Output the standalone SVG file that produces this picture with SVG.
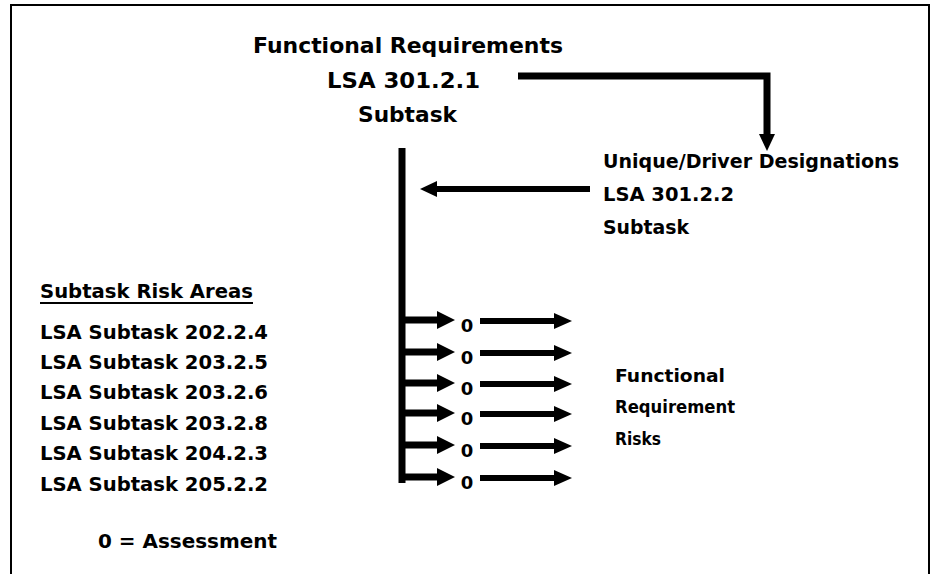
<svg xmlns="http://www.w3.org/2000/svg" width="931" height="574" viewBox="0 0 931 574">
<style>
text{font-family:"DejaVu Sans","Liberation Sans",sans-serif;font-weight:bold;fill:#000}
.big{font-size:22px}
.mid{font-size:20px}
.sm{font-size:18px}
.ln{stroke:#000;fill:none;stroke-linecap:butt}
.hd{fill:#000}
</style>
<rect width="931" height="574" fill="#fff"/>
<g id="frame" class="ln" stroke-width="2">
<path d="M11,574 V5 H929 V574"/>
</g>
<g id="node-fr">
<text class="big" x="253" y="53" textLength="310" lengthAdjust="spacingAndGlyphs">Functional Requirements</text>
<text class="big" x="327" y="88" textLength="153" lengthAdjust="spacingAndGlyphs">LSA 301.2.1</text>
<text class="big" x="358" y="122" textLength="99" lengthAdjust="spacingAndGlyphs">Subtask</text>
</g>
<g id="node-ud">
<text class="mid" x="603" y="168" textLength="296" lengthAdjust="spacingAndGlyphs">Unique/Driver Designations</text>
<text class="mid" x="603" y="201" textLength="131" lengthAdjust="spacingAndGlyphs">LSA 301.2.2</text>
<text class="mid" x="603" y="234" textLength="86" lengthAdjust="spacingAndGlyphs">Subtask</text>
</g>
<g id="node-risk-areas">
<text class="mid" x="40" y="298" textLength="213" lengthAdjust="spacingAndGlyphs">Subtask Risk Areas</text>
<line class="ln" x1="40" y1="303" x2="253" y2="303" stroke-width="2"/>
<text class="mid" x="40" y="339" textLength="228" lengthAdjust="spacingAndGlyphs">LSA Subtask 202.2.4</text>
<text class="mid" x="40" y="369" textLength="228" lengthAdjust="spacingAndGlyphs">LSA Subtask 203.2.5</text>
<text class="mid" x="40" y="399" textLength="228" lengthAdjust="spacingAndGlyphs">LSA Subtask 203.2.6</text>
<text class="mid" x="40" y="430" textLength="228" lengthAdjust="spacingAndGlyphs">LSA Subtask 203.2.8</text>
<text class="mid" x="40" y="460" textLength="228" lengthAdjust="spacingAndGlyphs">LSA Subtask 204.2.3</text>
<text class="mid" x="40" y="491" textLength="228" lengthAdjust="spacingAndGlyphs">LSA Subtask 205.2.2</text>
<text class="mid" x="98" y="548" textLength="179" lengthAdjust="spacingAndGlyphs">0 = Assessment</text>
</g>
<g id="node-frr">
<text class="sm" x="615" y="382" textLength="110" lengthAdjust="spacingAndGlyphs">Functional</text>
<text class="sm" x="615" y="413" textLength="120" lengthAdjust="spacingAndGlyphs">Requirement</text>
<text class="sm" x="615" y="445" textLength="46" lengthAdjust="spacingAndGlyphs">Risks</text>
</g>
<g id="node-assessments">
<text class="sm" x="467" y="332" text-anchor="middle">0</text>
<text class="sm" x="467" y="364" text-anchor="middle">0</text>
<text class="sm" x="467" y="395" text-anchor="middle">0</text>
<text class="sm" x="467" y="425" text-anchor="middle">0</text>
<text class="sm" x="467" y="457" text-anchor="middle">0</text>
<text class="sm" x="467" y="489" text-anchor="middle">0</text>
</g>
<g id="connectors">
<path class="ln" d="M518,76 H767 V136" stroke-width="7"/>
<polygon class="hd" points="759,134 775,134 767,151"/>
<line class="ln" x1="402" y1="148" x2="402" y2="483" stroke-width="7"/>
<line class="ln" x1="590" y1="189" x2="434" y2="189" stroke-width="6"/>
<polygon class="hd" points="437,181 437,197 420,189"/>
<g id="branches">
<path class="ln" d="M402,320 H440 M402,352 H440 M402,383 H440 M402,413 H440 M402,445 H440 M402,477 H440" stroke-width="7"/>
<path class="hd" d="M437,311 L455,320 L437,329 Z M437,343 L455,352 L437,361 Z M437,374 L455,383 L437,392 Z M437,404 L455,413 L437,422 Z M437,436 L455,445 L437,454 Z M437,468 L455,477 L437,486 Z"/>
<path class="ln" d="M480,321 H557 M480,353 H557 M480,384 H557 M480,414 H557 M480,446 H557 M480,478 H557" stroke-width="6"/>
<path class="hd" d="M554,313 L572,321 L554,329 Z M554,345 L572,353 L554,361 Z M554,376 L572,384 L554,392 Z M554,406 L572,414 L554,422 Z M554,438 L572,446 L554,454 Z M554,470 L572,478 L554,486 Z"/>
</g>
</g>
</svg>
